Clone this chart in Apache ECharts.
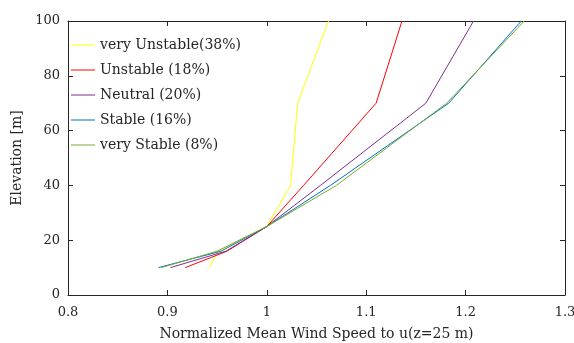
<!DOCTYPE html>
<html>
<head>
<meta charset="utf-8">
<script src="https://cdn.jsdelivr.net/npm/echarts@6/dist/echarts.min.js"></script>
<style>html,body{margin:0;padding:0;background:#fff;}#c{width:574px;height:343px;}</style>
</head>
<body>
<div id="c"></div>
<script>
const heights = [10, 16, 25, 40, 70, 100];
const seriesNames = ['very Unstable(38%)', 'Unstable (18%)', 'Neutral (20%)', 'Stable (16%)', 'very Stable (8%)'];
const veryUnstable = [0.942, 0.951, 1.0, 1.024, 1.031, 1.062];
const unstable = [0.918, 0.960, 1.0, 1.037, 1.110, 1.136];
const neutral = [0.903, 0.959, 1.0, 1.054, 1.160, 1.208];
const stable = [0.891, 0.954, 1.0, 1.064, 1.183, 1.256];
const veryStable = [0.894, 0.950, 1.0, 1.070, 1.181, 1.259];
const xTicks = [0.8, 0.9, 1, 1.1, 1.2, 1.3];
const yTicks = [0, 20, 40, 60, 80, 100];

const colors = ['#FFFF00', '#FF0000', '#7E2F8E', '#0072BD', '#77AC30'];
const values = [veryUnstable, unstable, neutral, stable, veryStable];
const font = 'DejaVu Serif';
const txt = '#262626';

const chart = echarts.init(document.getElementById('c'), null, {renderer: 'canvas'});
const axisCommon = {
  axisLine: {show: true, onZero: false, lineStyle: {color: txt, width: 1}},
  axisTick: {show: true, inside: true, length: 5, lineStyle: {color: txt}},
  splitLine: {show: false}
};
chart.setOption({
  animation: false,
  color: colors,
  grid: {left: 68, right: 9, top: 21, bottom: 48, containLabel: false, outerBoundsMode: 'none'},
  legend: {
    orient: 'vertical', left: 66, top: 32,
    icon: 'rect', itemWidth: 24, itemHeight: 1, itemGap: 9,
    textStyle: {fontFamily: font, fontSize: 14, color: txt, lineHeight: 16},
    data: seriesNames
  },
  xAxis: [
    Object.assign({
      type: 'value', min: 0.8, max: 1.3, interval: 0.1, position: 'bottom',
      name: 'Normalized Mean Wind Speed to u(z=25 m)', nameLocation: 'middle', nameGap: 32,
      nameTextStyle: {fontFamily: font, fontSize: 14, color: txt},
      axisLabel: {fontFamily: font, fontSize: 13, color: txt, margin: 11,
        formatter: v => { const t = xTicks.find(k => Math.abs(k - v) < 1e-6); return t === undefined ? '' : String(t); }}
    }, axisCommon),
    Object.assign({
      type: 'value', min: 0.8, max: 1.3, interval: 0.1, position: 'top',
      axisLabel: {show: false}
    }, axisCommon)
  ],
  yAxis: [
    Object.assign({
      type: 'value', min: 0, max: 100, interval: 20, position: 'left',
      name: 'Elevation [m]', nameLocation: 'middle', nameGap: 44,
      nameTextStyle: {fontFamily: font, fontSize: 14, color: txt},
      axisLabel: {fontFamily: font, fontSize: 13, color: txt, margin: 8,
        formatter: v => { const t = yTicks.find(k => Math.abs(k - v) < 1e-6); return t === undefined ? '' : String(t); }}
    }, axisCommon),
    Object.assign({
      type: 'value', min: 0, max: 100, interval: 20, position: 'right',
      axisLabel: {show: false}
    }, axisCommon)
  ],
  series: seriesNames.map((name, i) => ({
    name: name, type: 'line', xAxisIndex: 0, yAxisIndex: 0,
    symbol: 'none', clip: true,
    lineStyle: {width: 1, color: colors[i]},
    itemStyle: {color: colors[i]},
    data: heights.map((h, j) => [values[i][j], h])
  }))
});
</script>
</body>
</html>
